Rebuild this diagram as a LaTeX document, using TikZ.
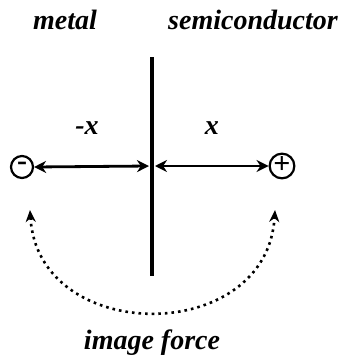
\documentclass[tikz,border=0pt]{standalone}
\usepackage{fontspec}
\setmainfont{Liberation Serif}
\usepackage{tikz}
\usetikzlibrary{arrows.meta,positioning}

\begin{document}
\begin{tikzpicture}[x=0.5pt,y=-0.5pt,
      every node/.style={font=\fontsize{14}{16}\selectfont\bfseries\itshape},
      charge/.style={draw,circle,line width=1.1pt,minimum size=11pt,inner sep=0pt,font=\fontsize{15}{15}\selectfont\bfseries},
      dist/.style={line width=1.4pt,{Stealth[length=6pt,width=6pt]}-{Stealth[length=6pt,width=6pt]}},
      force/.style={dotted,line width=1.3pt,{Stealth[length=6pt,width=5pt]}-{Stealth[length=6pt,width=5pt]}}]
    \useasboundingbox (0,0) rectangle (342,360);
    \node (metal) at (65,20) {metal};
    \node (semi) at (253,20) {semiconductor};
    \node (mx) at (87,128) {-x};
    \node (px) at (212,128) {x};
    % interface
    \coordinate (top) at (152,57);
    \coordinate (bot) at (152,276);
    \draw[line width=2pt] (top) -- (bot);
    \coordinate (mid) at (152,166);
    % charges
    \node[charge] (neg) at (22,167) {\raisebox{1pt}{-}};
    \node[charge] (pos) at (282,166) {\raisebox{0.5pt}{+}};
    \draw[dist] (neg.east) -- ([xshift=-1.5]mid);
    \draw[dist] ([xshift=1.5]mid) -- (pos.west);
    % image force
    \coordinate (la) at (30,210);
    \coordinate (ra) at (275,210);
    \draw[force] (la) .. controls (38,346) and (267,346) .. (ra);
    \node (img) at (152,343) {image force};
  \end{tikzpicture}
\end{document}
